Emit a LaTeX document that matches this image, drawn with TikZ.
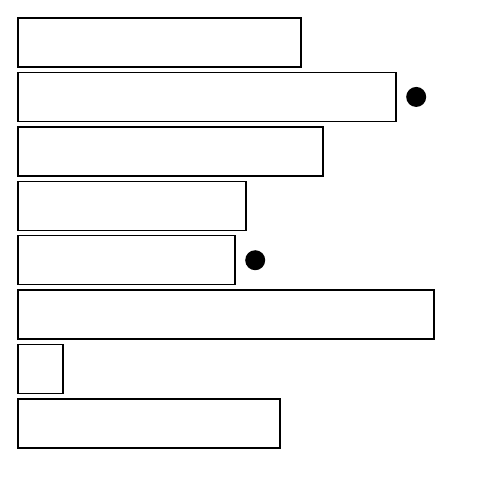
\documentclass[tikz,border=0pt]{standalone}
\usetikzlibrary{positioning}

\begin{document}
\begin{tikzpicture}[
    x		= 1pt,
    y		= -1pt,
    bar/.style	= {draw, line width = 1.5pt, rectangle, inner sep = 0pt, outer sep = 0pt, anchor = north west, minimum height = 49pt},
    mark dot/.style	= {fill, circle, inner sep = 0pt, minimum size = 20pt}
  ]
\useasboundingbox (0,0) rectangle (478,482);
% bars
\foreach \w [count=\i] in {283,378,305,228,217,416,45,262}
  \node[bar, minimum width = \w pt] (b\i) at (18,{18+(\i-1)*54.43}) {};
% dots
\node[mark dot, right = 10pt of b2] (d2) {};
\node[mark dot, right = 10pt of b5] (d5) {};
%
\end{tikzpicture}
\end{document}
